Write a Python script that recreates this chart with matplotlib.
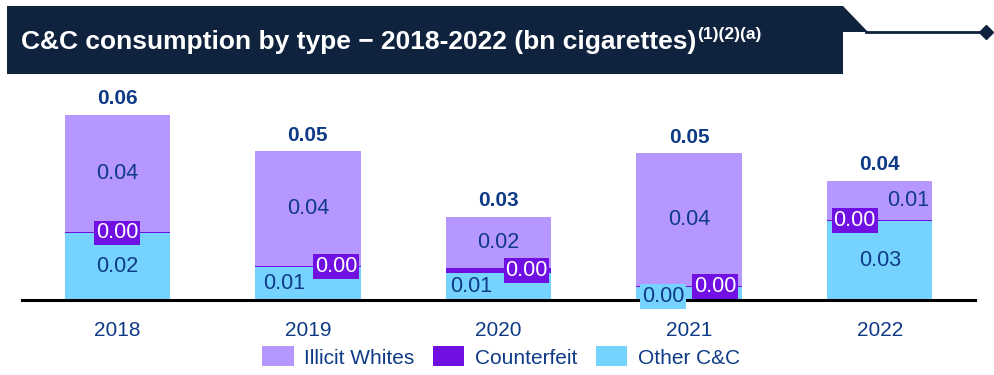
import matplotlib
matplotlib.use("Agg")
import matplotlib.pyplot as plt
import numpy as np
from matplotlib.patches import Polygon, Patch
from matplotlib.lines import Line2D

plt.rcParams['font.family'] = ['Liberation Sans', 'DejaVu Sans']

years = ["2018", "2019", "2020", "2021", "2022"]
other_cc = [0.0221, 0.0109, 0.0089, 0.0043, 0.0261]
counterfeit = [0.0002, 0.0002, 0.0017, 0.0003, 0.0003]
illicit_whites = [0.0389, 0.0380, 0.0168, 0.0439, 0.0129]
series_names = ["Illicit Whites", "Counterfeit", "Other C&C"]
title_main = "C&C consumption by type \u2212 2018-2022 (bn cigarettes)"
title_sup = "(1)(2)(a)"

# label offsets (pixels) to avoid overlaps, as in the reference
other_dx = [0, -24, -27, -26, 0]
cf_dx = [0, 28, 28, 26, -25]
iw_dx = [0, 0, 0, 0, 28]

C_IW = "#B597FE"
C_CF = "#7010E2"
C_OT = "#76D2FF"
NAVY = "#0E3A86"
BAR_BG = "#0F233E"

W, H = 994, 375
fig = plt.figure(figsize=(W / 100, H / 100), dpi=100)

def fx(px):
    return px / W

def fy(py):
    return 1 - py / H

# axes: x from 22 to 975 px, y from 85 to 300 px
ax = fig.add_axes([fx(22), fy(300), fx(975) - fx(22), fy(85) - fy(300)])
x = np.arange(len(years))
bw = 0.553
other = np.array(other_cc)
cf = np.array(counterfeit)
iw = np.array(illicit_whites)

ax.bar(x, other, bw, color=C_OT, linewidth=0)
ax.bar(x, cf, bw, bottom=other, color=C_CF, linewidth=0)
ax.bar(x, iw, bw, bottom=other + cf, color=C_IW, linewidth=0)

ax.set_xlim(-0.5, 4.5)
ax.set_ylim(0, 215 * 0.00033)
for s in ["top", "right", "left"]:
    ax.spines[s].set_visible(False)
ax.spines["bottom"].set_linewidth(2.2)
ax.spines["bottom"].set_color("black")
ax.set_yticks([])
ax.set_xticks(x)
ax.set_xticklabels(years, fontsize=15, color=NAVY)
ax.tick_params(axis="x", length=0, pad=15)

fs = 15.5
for i in range(len(years)):
    # Other label
    oy = other[i] / 2
    if other[i] < 0.005:
        ax.annotate(f"{other[i]:.2f}", (x[i], oy), xytext=(other_dx[i], -3),
                    textcoords="offset pixels", ha="center", va="center",
                    fontsize=fs, color=NAVY, annotation_clip=False,
                    bbox=dict(boxstyle="square,pad=0.08", fc=C_OT, ec="none"))
    else:
        ax.annotate(f"{other[i]:.2f}", (x[i], oy), xytext=(other_dx[i], 0),
                    textcoords="offset pixels", ha="center", va="center",
                    fontsize=fs, color=NAVY)
    # Counterfeit label
    cy = other[i] + cf[i] / 2
    ax.annotate(f"{cf[i]:.2f}", (x[i], cy), xytext=(cf_dx[i], 0),
                textcoords="offset pixels", ha="center", va="center",
                fontsize=fs, color="white",
                bbox=dict(boxstyle="square,pad=0.08", fc=C_CF, ec="none"))
    # Illicit label
    iy = other[i] + cf[i] + iw[i] / 2
    ax.annotate(f"{iw[i]:.2f}", (x[i], iy), xytext=(iw_dx[i], 0),
                textcoords="offset pixels", ha="center", va="center",
                fontsize=fs, color=NAVY)
    # total
    tot = other[i] + cf[i] + iw[i]
    ax.annotate(f"{tot:.2f}", (x[i], tot), xytext=(0, 16),
                textcoords="offset pixels", ha="center", va="center",
                fontsize=15, fontweight="bold", color=NAVY)

# legend
handles = [Patch(facecolor=C_IW, edgecolor="none"),
           Patch(facecolor=C_CF, edgecolor="none"),
           Patch(facecolor=C_OT, edgecolor="none")]
fig.legend(handles, series_names, loc="center", bbox_to_anchor=(fx(501), fy(357)),
           ncol=3, frameon=False, fontsize=15, labelcolor=NAVY,
           handlelength=1.5, handleheight=1.1, handletextpad=0.5, columnspacing=0.9)

# title banner
poly = Polygon([(fx(7), fy(6)), (fx(843), fy(6)), (fx(868), fy(32)), (fx(843), fy(32)),
                (fx(843), fy(74)), (fx(7), fy(74))], closed=True,
               transform=fig.transFigure, facecolor=BAR_BG, edgecolor="none")
fig.patches.append(poly)
fig.add_artist(Line2D([fx(866), fx(986)], [fy(32), fy(32)], color=BAR_BG, lw=2,
                      transform=fig.transFigure))
fig.add_artist(Line2D([fx(986)], [fy(32)], color=BAR_BG, marker="D", markersize=7,
                      transform=fig.transFigure, linestyle="none"))

t = fig.text(fx(21), fy(42), title_main, color="white", fontsize=19,
             fontweight="bold", ha="left", va="center")
fig.canvas.draw()
bb = t.get_window_extent(fig.canvas.get_renderer())
fig.text(bb.x1 / W + fx(1), fy(35), title_sup, color="white", fontsize=12.5,
         fontweight="bold", ha="left", va="center")

fig.savefig("out.png", dpi=100)
